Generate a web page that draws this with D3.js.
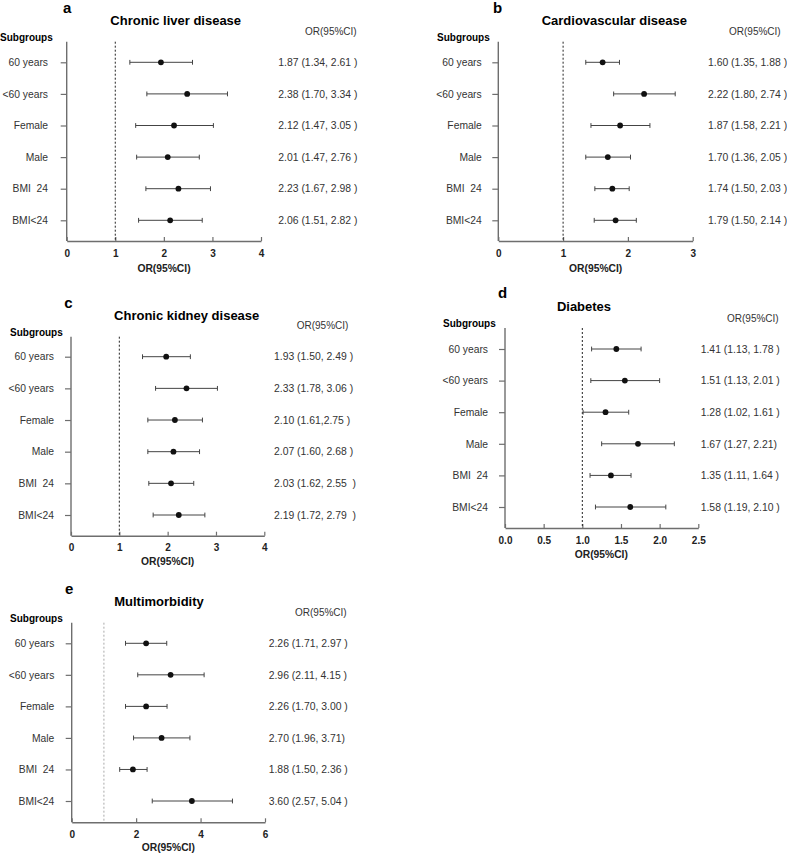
<!DOCTYPE html>
<html>
<head>
<meta charset="utf-8">
<script src="https://cdn.jsdelivr.net/npm/d3@7"></script>
<style>
  body { margin: 0; background: #fff; }
  text { font-family: "Liberation Sans", Arial, sans-serif; }
</style>
</head>
<body>
<div id="wrapper"></div>
<script>
// subgroup rows, same for every panel
const subgroups = ["60 years", "<60 years", "Female", "Male", "BMI  24", "BMI<24"];

// a - chronic liver disease (marks)
const liverOR = [1.94, 2.48, 2.21, 2.08, 2.30, 2.13];
const liverLo = [1.30, 1.65, 1.42, 1.44, 1.63, 1.48];
const liverHi = [2.59, 3.31, 3.02, 2.73, 2.96, 2.79];
const liverText = ["1.87 (1.34, 2.61 )", "2.38 (1.70, 3.34 )", "2.12 (1.47, 3.05 )",
  "2.01 (1.47, 2.76 )", "2.23 (1.67, 2.98 )", "2.06 (1.51, 2.82 )"];

// b - cardiovascular disease
const cardioOR = [1.61, 2.25, 1.88, 1.69, 1.76, 1.81];
const cardioLo = [1.35, 1.78, 1.43, 1.35, 1.49, 1.48];
const cardioHi = [1.87, 2.73, 2.34, 2.04, 2.02, 2.13];
const cardioText = ["1.60 (1.35, 1.88 )", "2.22 (1.80, 2.74 )", "1.87 (1.58, 2.21 )",
  "1.70 (1.36, 2.05 )", "1.74 (1.50, 2.03 )", "1.79 (1.50, 2.14 )"];

// c - chronic kidney disease
const kidneyOR = [1.97, 2.39, 2.15, 2.12, 2.07, 2.23];
const kidneyLo = [1.48, 1.75, 1.59, 1.59, 1.61, 1.70];
const kidneyHi = [2.47, 3.03, 2.72, 2.66, 2.54, 2.77];
const kidneyText = ["1.93 (1.50, 2.49 )", "2.33 (1.78, 3.06 )", "2.10 (1.61,2.75 )",
  "2.07 (1.60, 2.68 )", "2.03 (1.62, 2.55  )", "2.19 (1.72, 2.79  )"];

// d - diabetes
const diabOR = [1.44, 1.55, 1.30, 1.72, 1.37, 1.62];
const diabLo = [1.12, 1.11, 1.01, 1.25, 1.10, 1.17];
const diabHi = [1.76, 2.00, 1.60, 2.19, 1.63, 2.08];
const diabText = ["1.41 (1.13, 1.78 )", "1.51 (1.13, 2.01 )", "1.28 (1.02, 1.61 )",
  "1.67 (1.27, 2.21)", "1.35 (1.11, 1.64 )", "1.58 (1.19, 2.10 )"];

// e - multimorbidity
const multiOR = [2.31, 3.07, 2.31, 2.79, 1.90, 3.73];
const multiLo = [1.67, 2.05, 1.67, 1.92, 1.49, 2.50];
const multiHi = [2.95, 4.11, 2.96, 3.67, 2.34, 4.99];
const multiText = ["2.26 (1.71, 2.97 )", "2.96 (2.11, 4.15 )", "2.26 (1.70, 3.00 )",
  "2.70 (1.96, 3.71)", "1.88 (1.50, 2.36 )", "3.60 (2.57, 5.04 )"];

const panels = [
  { letter: "a", title: "Chronic liver disease", or: liverOR, lo: liverLo, hi: liverHi, txt: liverText,
    domain: [0, 4], ticks: [0, 1, 2, 3, 4], fmt: "d",
    x0: 66.7, x1: 261, yTop: 41.7, yBot: 241, row0: 62.3, rowN: 220.3,
    labelX: 48, subX: 0, subY: 37, headX: 305, headY: 31.7, valX: 278.3,
    titleX: 175.7, titleY: 20.7, letterX: 63, letterY: 7.5, axTitleX: 164, axTitleY: 268, refColor: "#222" },
  { letter: "b", title: "Cardiovascular disease", or: cardioOR, lo: cardioLo, hi: cardioHi, txt: cardioText,
    domain: [0, 3], ticks: [0, 1, 2, 3], fmt: "d",
    x0: 498.3, x1: 692.7, yTop: 41.7, yBot: 241, row0: 62.3, rowN: 220.3,
    labelX: 481.7, subX: 437, subY: 37, headX: 729, headY: 31.7, valX: 708,
    titleX: 614.3, titleY: 20.7, letterX: 493, letterY: 7.5, axTitleX: 595.7, axTitleY: 268, refColor: "#222" },
  { letter: "c", title: "Chronic kidney disease", or: kidneyOR, lo: kidneyLo, hi: kidneyHi, txt: kidneyText,
    domain: [0, 4], ticks: [0, 1, 2, 3, 4], fmt: "d",
    x0: 71, x1: 264.3, yTop: 336.7, yBot: 535.7, row0: 356.7, rowN: 515,
    labelX: 54, subX: 10, subY: 332.3, headX: 296.7, headY: 325.7, valX: 274,
    titleX: 186.7, titleY: 315, letterX: 64.3, letterY: 302.3, axTitleX: 167.7, axTitleY: 561.7, refColor: "#222" },
  { letter: "d", title: "Diabetes", or: diabOR, lo: diabLo, hi: diabHi, txt: diabText,
    domain: [0, 2.5], ticks: [0, 0.5, 1, 1.5, 2, 2.5], fmt: ".1f",
    x0: 505, x1: 698.3, yTop: 328, yBot: 528, row0: 349, rowN: 507,
    labelX: 488, subX: 443, subY: 323.7, headX: 727, headY: 318.3, valX: 700.7,
    titleX: 584, titleY: 306.7, letterX: 498, letterY: 292.5, axTitleX: 601.3, axTitleY: 554.7, refColor: "#222" },
  { letter: "e", title: "Multimorbidity", or: multiOR, lo: multiLo, hi: multiHi, txt: multiText,
    domain: [0, 6], ticks: [0, 2, 4, 6], fmt: "d",
    x0: 71.7, x1: 265, yTop: 622.7, yBot: 822.3, row0: 643.3, rowN: 801,
    labelX: 54.3, subX: 10, subY: 618.3, headX: 295, headY: 612.3, valX: 268.7,
    titleX: 159, titleY: 601.7, letterX: 65, letterY: 588.3, axTitleX: 168.3, axTitleY: 847.7, refColor: "#aaa" }
];

const svg = d3.select("#wrapper")
  .append("svg")
  .attr("width", 787)
  .attr("height", 853);

const axisColor = "#6e6e6e";

function drawPanel(p) {
  const g = svg.append("g");

  const x = d3.scaleLinear().domain(p.domain).range([p.x0, p.x1]);
  const y = d3.scalePoint().domain(subgroups).range([p.row0, p.rowN]);

  const rows = subgroups.map((s, i) => ({ s, or: p.or[i], lo: p.lo[i], hi: p.hi[i], txt: p.txt[i] }));

  // panel letter and title
  g.append("text").attr("x", p.letterX).attr("y", p.letterY).attr("dy", "0.36em")
    .style("font-size", "15px").style("font-weight", "bold").text(p.letter);
  g.append("text").attr("x", p.titleX).attr("y", p.titleY).attr("dy", "0.36em")
    .attr("text-anchor", "middle").style("font-size", "13px").style("font-weight", "bold")
    .text(p.title);
  g.append("text").attr("x", p.subX).attr("y", p.subY).attr("dy", "0.36em")
    .style("font-size", "10px").style("font-weight", "bold").text("Subgroups");
  g.append("text").attr("x", p.headX).attr("y", p.headY).attr("dy", "0.36em")
    .style("font-size", "10px").style("fill", "#333").text("OR(95%CI)");

  // x axis
  const xAxis = g.append("g")
    .attr("transform", `translate(0,${p.yBot})`)
    .call(d3.axisBottom(x).tickValues(p.ticks).tickFormat(d3.format(p.fmt))
      .tickSize(-4).tickSizeOuter(0).tickPadding(8.5));
  xAxis.select(".domain").attr("stroke", axisColor).attr("stroke-width", 1.4);
  xAxis.selectAll(".tick line").attr("stroke", axisColor).attr("stroke-width", 1.2);
  xAxis.selectAll(".tick text").style("font-size", "10px").style("font-weight", "bold")
    .style("font-family", "'Liberation Sans', Arial, sans-serif").attr("fill", "#222");

  // y axis
  const yAxis = g.append("g")
    .attr("transform", `translate(${p.x0},0)`)
    .call(d3.axisLeft(y).tickSize(6).tickPadding(p.x0 - p.labelX - 6));
  yAxis.select(".domain").remove();
  yAxis.selectAll(".tick line").attr("stroke", axisColor).attr("stroke-width", 1.2);
  yAxis.selectAll(".tick text").style("font-size", "10.3px").attr("fill", "#333")
    .style("font-family", "'Liberation Sans', Arial, sans-serif").style("white-space", "pre");
  g.append("line")
    .attr("x1", p.x0).attr("x2", p.x0).attr("y1", p.yTop).attr("y2", p.yBot)
    .attr("stroke", axisColor).attr("stroke-width", 1.4);

  // reference line at OR = 1
  g.append("line")
    .attr("x1", x(1)).attr("x2", x(1)).attr("y1", p.yTop).attr("y2", p.yBot)
    .attr("stroke", p.refColor).attr("stroke-width", 1).attr("stroke-dasharray", "2,2");

  // error bars
  const bars = g.selectAll(".bar").data(rows).enter().append("g").attr("class", "bar");
  bars.append("line")
    .attr("x1", d => x(d.lo)).attr("x2", d => x(d.hi))
    .attr("y1", d => y(d.s)).attr("y2", d => y(d.s))
    .attr("stroke", "#444").attr("stroke-width", 1);
  bars.append("line")
    .attr("x1", d => x(d.lo)).attr("x2", d => x(d.lo))
    .attr("y1", d => y(d.s) - 2.4).attr("y2", d => y(d.s) + 2.4)
    .attr("stroke", "#444").attr("stroke-width", 1);
  bars.append("line")
    .attr("x1", d => x(d.hi)).attr("x2", d => x(d.hi))
    .attr("y1", d => y(d.s) - 2.4).attr("y2", d => y(d.s) + 2.4)
    .attr("stroke", "#444").attr("stroke-width", 1);
  bars.append("circle")
    .attr("cx", d => x(d.or)).attr("cy", d => y(d.s)).attr("r", 2.9)
    .attr("fill", "#111");

  // OR (95%CI) text column
  g.selectAll(".val").data(rows).enter().append("text")
    .attr("class", "val")
    .attr("x", p.valX).attr("y", d => y(d.s)).attr("dy", "0.36em")
    .style("font-size", "10.4px").style("fill", "#333").style("white-space", "pre")
    .text(d => d.txt);

  // x axis title
  g.append("text").attr("x", p.axTitleX).attr("y", p.axTitleY).attr("dy", "0.36em")
    .attr("text-anchor", "middle").style("font-size", "10.3px").style("font-weight", "bold")
    .attr("fill", "#222").text("OR(95%CI)");
}

panels.forEach(drawPanel);
</script>
</body>
</html>
